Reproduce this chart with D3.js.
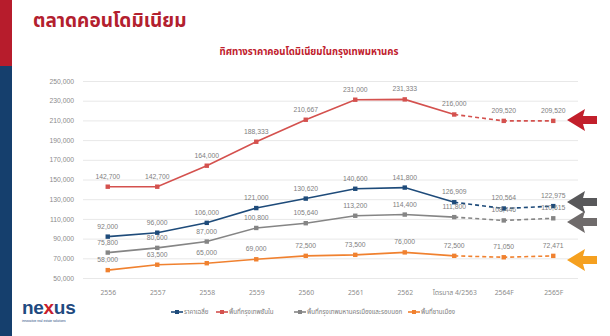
<!DOCTYPE html>
<html><head><meta charset="utf-8">
<script src="https://cdn.jsdelivr.net/npm/d3@7/dist/d3.min.js"></script>
<style>
html,body{margin:0;padding:0;background:#fff;}
svg{display:block;font-family:"Noto Sans Thai","Tahoma","Noto Sans",sans-serif;}
</style></head>
<body>
<svg id="c" width="610" height="336"></svg>
<script>
const categories = ["2556","2557","2558","2559","2560","2561","2562","ไตรมาส 4/2563","2564F","2565F"];
const seriesNames = ["ราคาเฉลี่ย","พื้นที่กรุงเทพชั้นใน","พื้นที่กรุงเทพมหานครเมืองและรอบนอก","พื้นที่ชานเมือง"];
const avgPrice   = [92000,96000,106000,121000,130620,140600,141800,126909,120564,122975];
const innerBkk   = [142700,142700,164000,188333,210667,231000,231333,216000,209520,209520];
const midBkk     = [75800,80600,87000,100800,105640,113200,114400,111800,108446,110615];
const suburb     = [58000,63500,65000,69000,72500,73500,76000,72500,71050,72471];
const yTicks     = [50000,70000,90000,110000,130000,150000,170000,190000,210000,230000,250000];
const forecastStart = 7;

const colors = ["#1e4b7a","#d4514e","#858585","#f0812f"];
const arrowColors = ["#58585a","#c21f2b","#6f6b6b","#f5a01f"];
const seriesData = [avgPrice, innerBkk, midBkk, suburb];

const svg = d3.select("#c");

// side bar
svg.append("rect").attr("x",0).attr("y",0).attr("width",12).attr("height",66).attr("fill","#b71c2c");
svg.append("rect").attr("x",0).attr("y",66).attr("width",12).attr("height",270).attr("fill","#153f6d");

// title
svg.append("text").attr("x",33).attr("y",27).attr("font-size",19).attr("font-weight","bold")
  .attr("fill","#b3202e").text("ตลาดคอนโดมิเนียม");
svg.append("text").attr("x",309).attr("y",55).attr("text-anchor","middle").attr("font-size",9.6)
  .attr("font-weight","bold").attr("fill","#c0202c").text("ทิศทางราคาคอนโดมิเนียมในกรุงเทพมหานคร");

const pL = 83, pR = 578, pT = 81, pB = 278;
const x = d3.scalePoint().domain(categories).range([pL, pR]).padding(0.5);
const y = d3.scaleLinear().domain([50000,250000]).range([pB, pT]);

// grid
const yAxis = d3.axisLeft(y).tickValues(yTicks).tickSize(-(pR-pL)).tickFormat(d3.format(","));
const gy = svg.append("g").attr("transform",`translate(${pL},0)`).call(yAxis);
gy.select(".domain").remove();
gy.selectAll(".tick line").attr("stroke","#e8e8e8").attr("stroke-width",1);
gy.selectAll(".tick text").attr("fill","#8c8c8c").attr("font-size",6.8).attr("x",-9)
  .attr("font-family","Liberation Sans, Arial, sans-serif");

// x axis labels
const xAxis = d3.axisBottom(x).tickSize(0);
const gx = svg.append("g").attr("transform",`translate(0,${pB+9})`).call(xAxis);
gx.select(".domain").remove();
gx.selectAll(".tick text").attr("fill","#8c8c8c").attr("font-size",6.8)
  .attr("font-family","\"Noto Sans Thai\",Tahoma,\"Liberation Sans\",sans-serif");

seriesData.forEach((vals,si)=>{
  const g = svg.append("g");
  const pts = vals.map((v,i)=>({v,i}));
  const solid = pts.filter(p=>p.i<=forecastStart);
  const dash = pts.filter(p=>p.i>=forecastStart);
  const ln = d3.line().x(p=>x(categories[p.i])).y(p=>y(p.v));
  g.append("path").attr("d",ln(solid)).attr("fill","none").attr("stroke",colors[si]).attr("stroke-width",1.6);
  g.append("path").attr("d",ln(dash)).attr("fill","none").attr("stroke",colors[si]).attr("stroke-width",1.6)
    .attr("stroke-dasharray","4,3");
  g.selectAll("rect.m").data(pts).enter().append("rect")
    .attr("x",p=>x(categories[p.i])-2.2).attr("y",p=>y(p.v)-2.2).attr("width",4.4).attr("height",4.4)
    .attr("fill",colors[si]);
  g.selectAll("text.l").data(pts).enter().append("text")
    .attr("x",p=>x(categories[p.i])).attr("y",p=>y(p.v)-8)
    .attr("text-anchor","middle").attr("font-size",6.8).attr("fill","#808080")
    .attr("font-family","Liberation Sans, Arial, sans-serif")
    .text(p=>d3.format(",")(p.v));
});

// arrows on right
const arrowPos = [202, 120, 222, 260];
arrowPos.forEach((ay,i)=>{
  const x0 = 567, xh = 585, x1 = 597, hh = 11, th = 4;
  svg.append("path")
    .attr("d",`M${x0},${ay} L${xh},${ay-hh} L${xh-2},${ay-th} L${x1},${ay-th} L${x1},${ay+th} L${xh-2},${ay+th} L${xh},${ay+hh} Z`)
    .attr("fill",arrowColors[i]);
});

// legend
const legX = [171, 216, 294, 408];
const lg = svg.append("g");
seriesNames.forEach((n,i)=>{
  const gx0 = legX[i], gy0 = 312;
  lg.append("line").attr("x1",gx0).attr("x2",gx0+12).attr("y1",gy0).attr("y2",gy0)
    .attr("stroke",colors[i]).attr("stroke-width",1.6);
  lg.append("rect").attr("x",gx0+4).attr("y",gy0-2).attr("width",4).attr("height",4).attr("fill",colors[i]);
  lg.append("text").attr("x",gx0+13).attr("y",gy0+2.3).attr("font-size",6.2).attr("fill","#7a7a7a").text(n);
});

// logo
const logo = svg.append("text").attr("x",22).attr("y",314).attr("font-size",19).attr("font-weight","bold")
  .attr("font-family","Liberation Sans, Arial, sans-serif").attr("letter-spacing",-0.3);
logo.append("tspan").attr("fill","#1f4a80").text("ne");
logo.append("tspan").attr("fill","#c8202c").text("x");
logo.append("tspan").attr("fill","#1f4a80").text("us");
svg.append("text").attr("x",22).attr("y",322).attr("font-size",3.2).attr("fill","#1f4a80")
  .attr("font-family","Liberation Sans, Arial, sans-serif").text("innovative real estate solutions");
</script>
</body></html>
